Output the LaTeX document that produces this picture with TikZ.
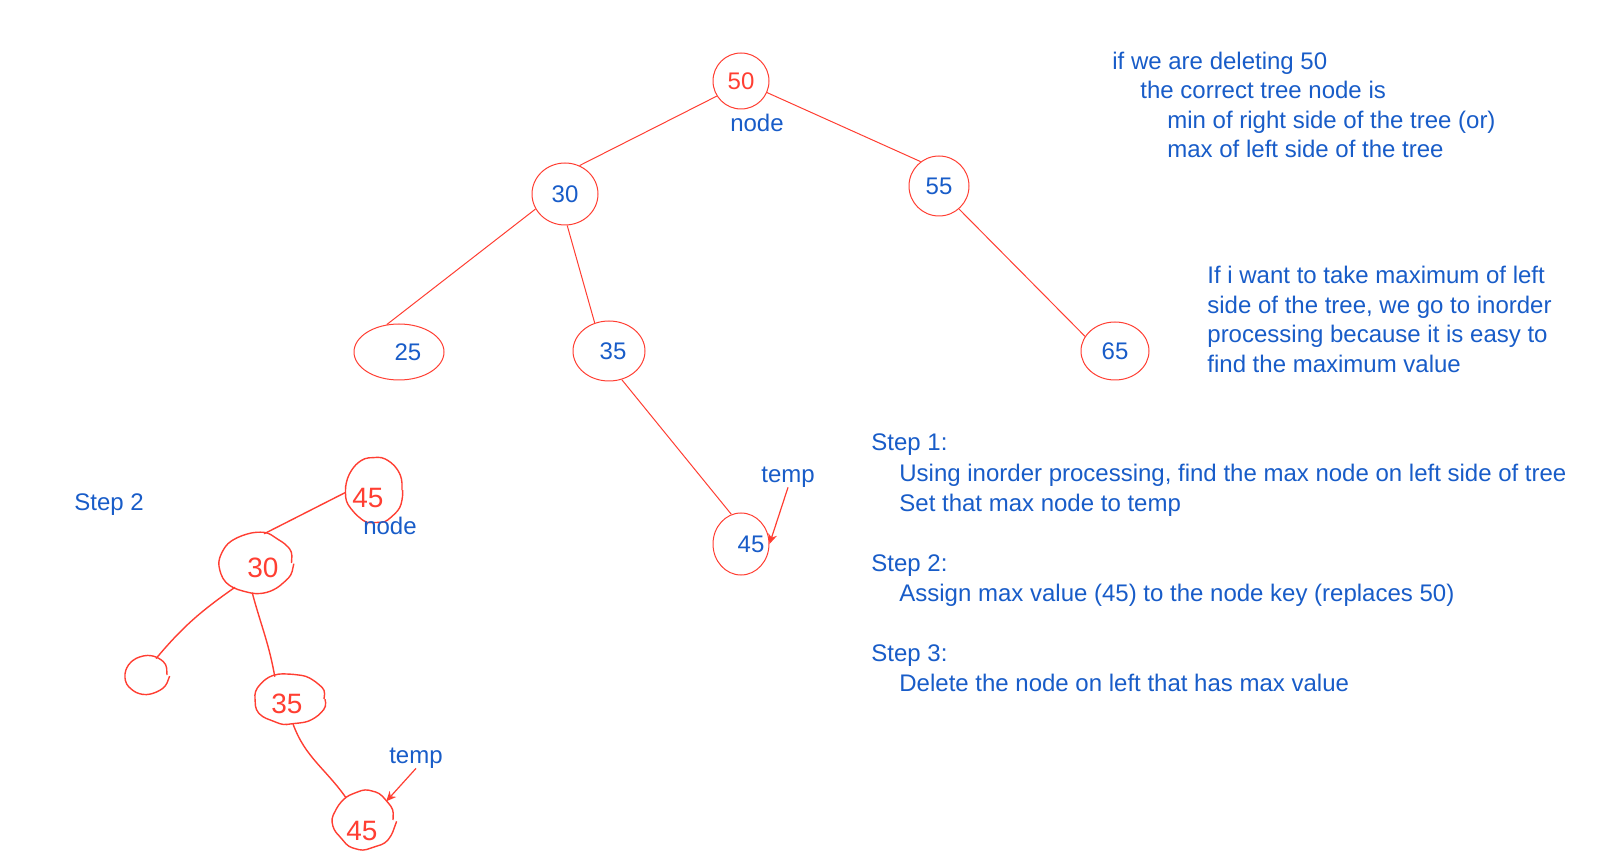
\documentclass[tikz,border=0pt]{standalone}
\usepackage{fontspec}
\setmainfont{Liberation Sans}
\usepackage{tikz}
\usetikzlibrary{shapes.geometric, arrows.meta, decorations.pathmorphing}
\definecolor{inkblue}{RGB}{24,92,200}
\definecolor{inkred}{RGB}{255,62,50}
\tikzstyle{treenode} = [ellipse, 
draw=inkred, 
line width=0.5pt, 
inner sep=0pt, 
text=inkblue,
font=\fontsize{12}{14}\selectfont]
\tikzstyle{sketchnode} = [ellipse, 
draw=inkred, 
line width=0.7pt, 
inner sep=0pt, 
text=inkred,
font=\fontsize{14}{16}\selectfont,
decorate,
decoration={random steps, segment length=5pt, amplitude=0.7pt},
rounded corners=2pt]
\tikzstyle{note} = [text=inkblue, 
inner sep=0pt, 
font=\fontsize{12}{14}\selectfont]
\tikzstyle{edge} = [draw=inkred, line width=0.5pt]
\tikzstyle{sketch} = [draw=inkred, line width=0.7pt, line cap=round]
\tikzstyle{pointer} = [draw=inkred, line width=0.6pt, -{Stealth[length=5pt, width=4.5pt]}]

\begin{document}
\begin{tikzpicture}[x=0.5pt, y=-0.5pt]
\pgfmathsetseed{11}
\useasboundingbox (0,0) rectangle (1608,861);

% main tree
\node (n50) [treenode, text=inkred, minimum width=28pt, minimum height=28pt] at (741,81) {50};
\node (n30) [treenode, minimum width=33pt, minimum height=31pt] at (565,194) {30};
\node (n55) [treenode, minimum width=30pt, minimum height=30pt] at (939,186) {55};
\node (n25) [treenode, minimum width=45pt, minimum height=28pt] at (399,352) {\makebox[0pt]{\hspace*{9pt}25}};
\node (n35) [treenode, minimum width=36pt, minimum height=30pt] at (609,351) {\makebox[0pt]{\hspace*{4pt}35}};
\node (n65) [treenode, minimum width=34pt, minimum height=29pt] at (1115,351) {65};
\node (n45) [treenode, minimum width=28pt, minimum height=31pt] at (741,544) {\makebox[0pt]{\hspace*{10pt}45}};

\node (node1) [note, anchor=base] at (757,132) {node};
\node (temp1) [note, anchor=base] at (788,482) {temp};

\draw [edge] (n50.212) -- (n30.63);
\draw [edge] (n50.-24) -- (n55.127);
\draw [edge] (n30.207) -- (n25.114);
\draw [edge] (n30.-86) -- (n35.117);
\draw [edge] (n35.-66) -- (n45.108);
\draw [edge] (n55.-49) -- (n65.154);
\draw [pointer] (temp1.south) -- (n45.east);

% notes on the right
\node (if1) [note, anchor=base west] at (1112,70) {if we are deleting 50};
\node (if2) [note, anchor=base west] at (1140,99) {the correct tree node is};
\node (if3) [note, anchor=base west] at (1167,129) {min of right side of the tree (or)};
\node (if4) [note, anchor=base west] at (1167,158) {max of left side of the tree};

\node (why1) [note, anchor=base west] at (1207,284) {If i want to take maximum of left};
\node (why2) [note, anchor=base west] at (1207,314) {side of the tree, we go to inorder};
\node (why3) [note, anchor=base west] at (1207,343) {processing because it is easy to};
\node (why4) [note, anchor=base west] at (1207,373) {find the maximum value};

\node (st1) [note, anchor=base west] at (871,451) {Step 1:};
\node (st1a) [note, anchor=base west] at (899,481) {Using inorder processing, find the max node on left side of tree};
\node (st1b) [note, anchor=base west] at (899,511) {Set that max node to temp};
\node (st2) [note, anchor=base west] at (871,571) {Step 2:};
\node (st2a) [note, anchor=base west] at (899,601) {Assign max value (45) to the node key (replaces 50)};
\node (st3) [note, anchor=base west] at (871,661) {Step 3:};
\node (st3a) [note, anchor=base west] at (899,691) {Delete the node on left that has max value};

% step 2 sketch
\node (step2) [note, anchor=base west] at (74,510) {Step 2};
\node (s45a) [sketchnode, minimum width=28pt, minimum height=31.5pt] at (374,490) {\makebox[0pt]{\raisebox{-9pt}[0pt][0pt]{45}\hspace*{6pt}}};
\node (s30) [sketchnode, minimum width=35.5pt, minimum height=29.5pt] at (256,563) {\makebox[0pt]{\hspace*{7pt}\raisebox{-7pt}[0pt][0pt]{30}}};
\node (sleaf) [sketchnode, minimum width=20pt, minimum height=18pt] at (147,675) {};
\node (s35) [sketchnode, minimum width=34pt, minimum height=24.5pt] at (290,699) {\makebox[0pt]{\raisebox{-7pt}[0pt][0pt]{35}\hspace*{3pt}}};
\node (s45b) [sketchnode, minimum width=29pt, minimum height=27.5pt] at (364,820) {\makebox[0pt]{\raisebox{-10pt}[0pt][0pt]{45}\hspace*{2pt}}};

\node (node2) [note, anchor=base] at (390,534) {node};
\node (temp2) [note, anchor=base] at (416,763) {temp};

\draw [sketch] (s45a.185) -- (s30.74);
\draw [sketch] (s30.229) to[out=215, in=50] (sleaf.61);
\draw [sketch] (s30.263) to[out=-75, in=100] (s35.124);
\draw [sketch] (s35.277) to[out=-70, in=125] (s45b.129);
\draw [pointer] (temp2.south) -- (s45b.40);

\end{tikzpicture}
\end{document}
